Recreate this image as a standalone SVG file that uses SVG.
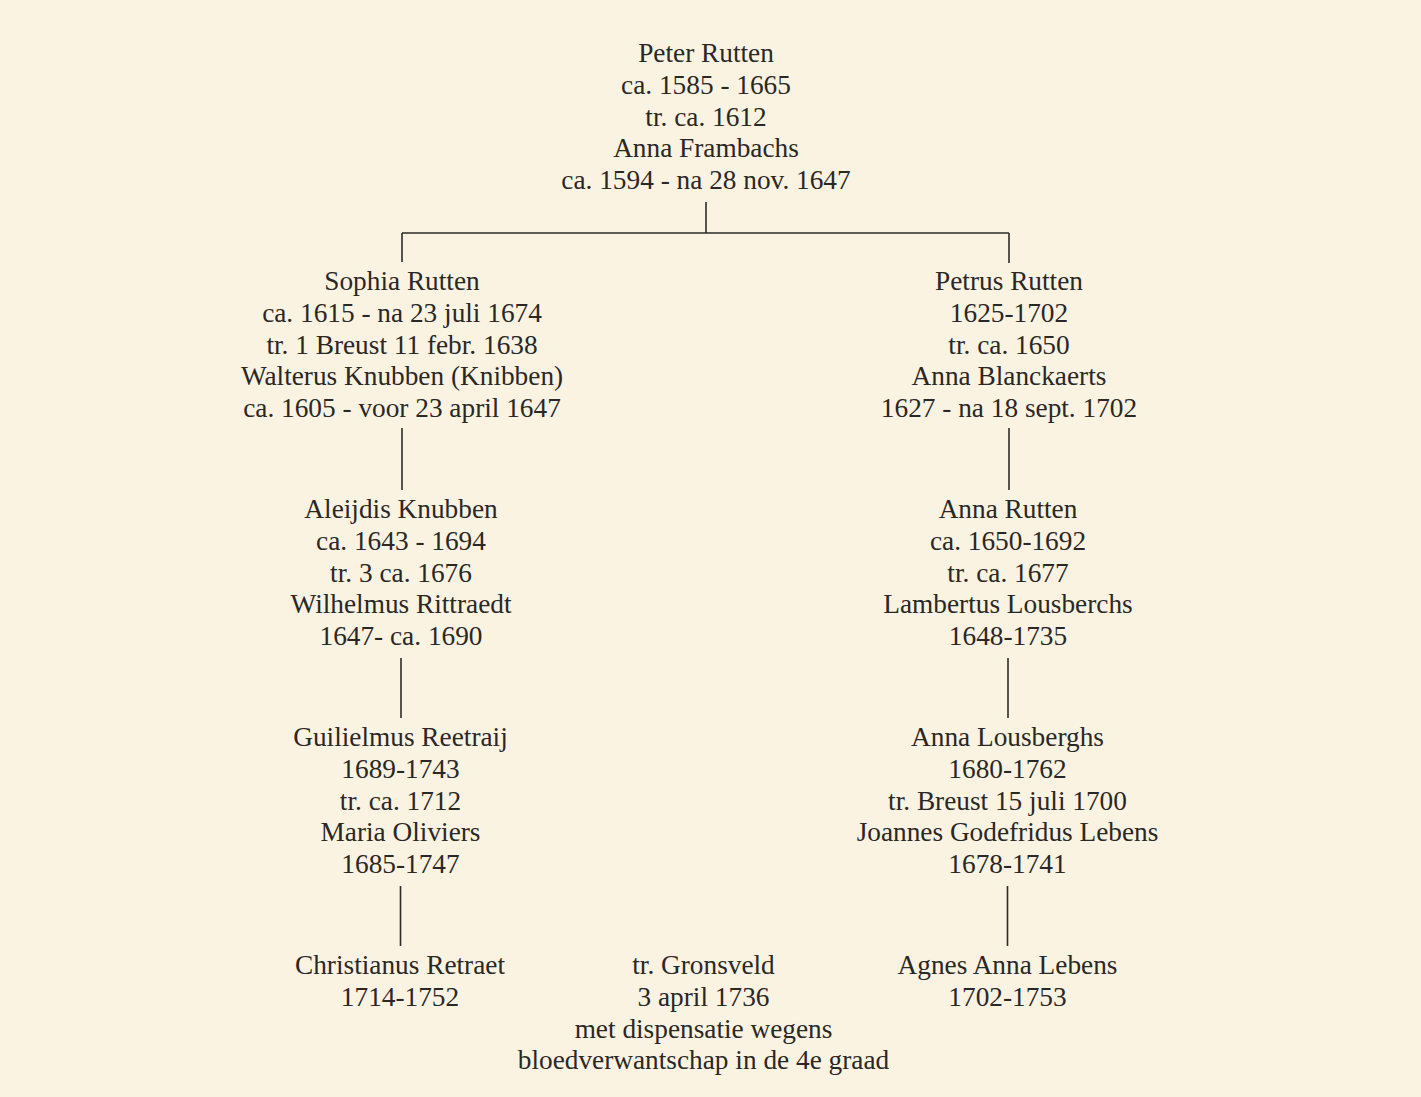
<svg xmlns="http://www.w3.org/2000/svg" width="1421" height="1097" viewBox="0 0 1421 1097">
<style>
text{font-family:"Liberation Serif","Times New Roman",serif;font-size:27.3px;fill:#2a2826;text-anchor:middle}
.c{stroke:#2e2c2a;stroke-width:1.6;fill:none}
</style>
<rect width="1421" height="1097" fill="#fbf3e1"/>
<g id="connectors">
<path class="c" d="M706 202V233M402 233H1009M402 233V262M1009 233V263"/>
<path class="c" d="M402 428V490M1009 428V490"/>
<path class="c" d="M401 658V718M1008 658V718"/>
<path class="c" d="M400.5 886V946M1007.5 886V946"/>
</g>
<g id="peter">
<text x="706" y="62">Peter Rutten</text>
<text x="706" y="94">ca. 1585 - 1665</text>
<text x="706" y="126">tr. ca. 1612</text>
<text x="706" y="157">Anna Frambachs</text>
<text x="706" y="189">ca. 1594 - na 28 nov. 1647</text>
</g>
<g id="sophia">
<text x="402" y="290">Sophia Rutten</text>
<text x="402" y="322">ca. 1615 - na 23 juli 1674</text>
<text x="402" y="354">tr. 1 Breust 11 febr. 1638</text>
<text x="402" y="385">Walterus Knubben (Knibben)</text>
<text x="402" y="417">ca. 1605 - voor 23 april 1647</text>
</g>
<g id="petrus">
<text x="1009" y="290">Petrus Rutten</text>
<text x="1009" y="322">1625-1702</text>
<text x="1009" y="354">tr. ca. 1650</text>
<text x="1009" y="385">Anna Blanckaerts</text>
<text x="1009" y="417">1627 - na 18 sept. 1702</text>
</g>
<g id="aleijdis">
<text x="401" y="518">Aleijdis Knubben</text>
<text x="401" y="550">ca. 1643 - 1694</text>
<text x="401" y="582">tr. 3 ca. 1676</text>
<text x="401" y="613">Wilhelmus Rittraedt</text>
<text x="401" y="645">1647- ca. 1690</text>
</g>
<g id="anna-rutten">
<text x="1008" y="518">Anna Rutten</text>
<text x="1008" y="550">ca. 1650-1692</text>
<text x="1008" y="582">tr. ca. 1677</text>
<text x="1008" y="613">Lambertus Lousberchs</text>
<text x="1008" y="645">1648-1735</text>
</g>
<g id="guilielmus">
<text x="400.5" y="746">Guilielmus Reetraij</text>
<text x="400.5" y="778">1689-1743</text>
<text x="400.5" y="810">tr. ca. 1712</text>
<text x="400.5" y="841">Maria Oliviers</text>
<text x="400.5" y="873">1685-1747</text>
</g>
<g id="anna-lousberghs">
<text x="1007.5" y="746">Anna Lousberghs</text>
<text x="1007.5" y="778">1680-1762</text>
<text x="1007.5" y="810">tr. Breust 15 juli 1700</text>
<text x="1007.5" y="841">Joannes Godefridus Lebens</text>
<text x="1007.5" y="873">1678-1741</text>
</g>
<g id="christianus">
<text x="400" y="974">Christianus Retraet</text>
<text x="400" y="1006">1714-1752</text>
</g>
<g id="marriage">
<text x="703.5" y="974">tr. Gronsveld</text>
<text x="703.5" y="1006">3 april 1736</text>
<text x="703.5" y="1038">met dispensatie wegens</text>
<text x="703.5" y="1069">bloedverwantschap in de 4e graad</text>
</g>
<g id="agnes">
<text x="1007.5" y="974">Agnes Anna Lebens</text>
<text x="1007.5" y="1006">1702-1753</text>
</g>
</svg>
